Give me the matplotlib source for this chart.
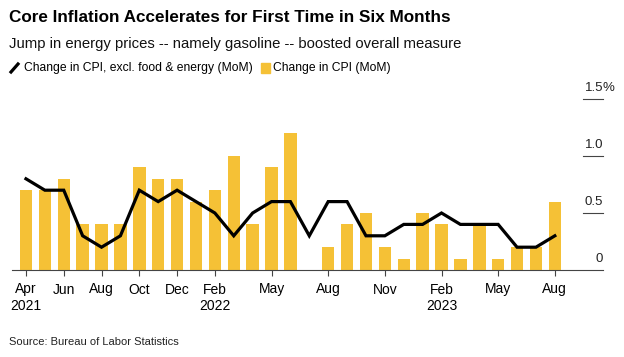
import matplotlib
matplotlib.use("Agg")
import matplotlib.pyplot as plt
from matplotlib.patches import Rectangle
from matplotlib.lines import Line2D

# monthly data, Apr 2021 .. Aug 2023
cpi = [0.7, 0.7, 0.8, 0.4, 0.4, 0.4, 0.9, 0.8, 0.8, 0.6, 0.7, 1.0, 0.4, 0.9, 1.2, 0.0,
       0.2, 0.4, 0.5, 0.2, 0.1, 0.5, 0.4, 0.1, 0.4, 0.1, 0.2, 0.2, 0.6]
core = [0.8, 0.7, 0.7, 0.3, 0.2, 0.3, 0.7, 0.6, 0.7, 0.6, 0.5, 0.3, 0.5, 0.6, 0.6, 0.3,
        0.6, 0.6, 0.3, 0.3, 0.4, 0.4, 0.5, 0.4, 0.4, 0.4, 0.2, 0.2, 0.3]
tick_pos = [0, 2, 4, 6, 8, 10, 13, 16, 19, 22, 25, 28]
tick_labels = ["Apr\n2021", "Jun", "Aug", "Oct", "Dec", "Feb\n2022", "May", "Aug",
               "Nov", "Feb\n2023", "May", "Aug"]
y_ticks = [0, 0.5, 1.0, 1.5]
y_labels = ["0", "0.5", "1.0", "1.5"]

plt.rcParams["font.family"] = ["Liberation Sans", "DejaVu Sans"]

yellow = "#f5c136"
fig = plt.figure(figsize=(6.24, 3.57), dpi=100)
ax = fig.add_axes([12 / 624, 1 - 270 / 357, 591 / 624, 171 / 357])

x = list(range(len(cpi)))
ax.bar(x, cpi, width=0.66, color=yellow, zorder=1)
ax.plot(x, core, color="black", lw=2.3, zorder=3, solid_joinstyle="miter")

ax.set_xlim(-0.74, 30.55)
ax.set_ylim(0, 1.5)
for s in ["top", "right", "left"]:
    ax.spines[s].set_visible(False)
ax.spines["bottom"].set_color("#444444")
ax.spines["bottom"].set_linewidth(0.8)
ax.set_yticks([])
ax.set_xticks(tick_pos)
ax.set_xticklabels(tick_labels, fontsize=10, linespacing=1.25)
ax.tick_params(axis="x", length=4, width=0.8, color="#444444", pad=5)

ytr = ax.get_yaxis_transform()
for v, lab in zip(y_ticks, y_labels):
    if v > 0:
        ax.plot([0.966, 1.0], [v, v], color="#444444", lw=0.8, transform=ytr, clip_on=False)
    ax.annotate(lab, xy=(1.0, v), xycoords=ytr, xytext=(0, 6), textcoords="offset points",
                ha="right", va="baseline", fontsize=9.5, color="#222222")
ax.annotate("%", xy=(1.0, 1.5), xycoords=ytr, xytext=(-0.5, 6), textcoords="offset points",
            ha="left", va="baseline", fontsize=9.5, color="#222222")

fig.text(9 / 624, 1 - 17 / 357, "Core Inflation Accelerates for First Time in Six Months",
         fontsize=12.3, fontweight="bold", va="center")
fig.text(9 / 624, 1 - 44 / 357, "Jump in energy prices -- namely gasoline -- boosted overall measure",
         fontsize=10.7, va="center", color="#111111")

# legend
ly = 1 - 68 / 357
fig.add_artist(Line2D([11 / 624, 18 / 624], [ly - 4 / 357, ly + 4 / 357], color="black", lw=2.3))
fig.text(24 / 624, ly, "Change in CPI, excl. food & energy (MoM)", fontsize=8.7, va="center")
fig.add_artist(Rectangle((261 / 624, ly - 4.5 / 357), 9 / 624, 9 / 357, color=yellow,
                         transform=fig.transFigure))
fig.text(273 / 624, ly, "Change in CPI (MoM)", fontsize=8.7, va="center")

fig.text(9 / 624, 1 - 342 / 357, "Source: Bureau of Labor Statistics", fontsize=8, va="center",
         color="#222222")

fig.savefig("out.png", dpi=100)
